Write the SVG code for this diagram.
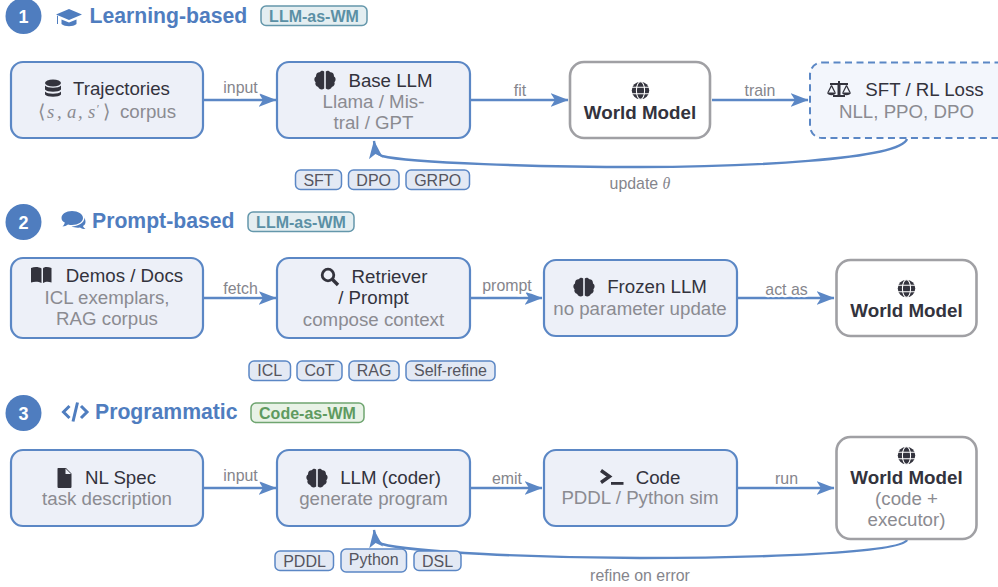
<svg xmlns="http://www.w3.org/2000/svg" width="998" height="587" viewBox="0 0 998 587">
<style>
text{font-family:"Liberation Sans",Arial,sans-serif;text-anchor:middle}
.box{fill:#edf0f8;stroke:#5b87c5;stroke-width:2.2}
.wm{fill:#fff;stroke:#a0a0a4;stroke-width:2.6}
.loss{fill:#f3f6fc;stroke:#5b87c5;stroke-width:2;stroke-dasharray:7 4.5}
.t{font-size:18.7px;fill:#33333d}
.s{font-size:18.7px;fill:#8b8b91}
.b{font-size:18.8px;font-weight:bold;fill:#33333d}
.e{font-size:15.9px;fill:#85858c;paint-order:stroke;stroke:#fff;stroke-width:4.5px}
.tag{fill:#e3e9f4;stroke:#5b87c5;stroke-width:1.5}
.tt{font-size:16px;fill:#55555f}
.h{font-size:21.2px;font-weight:bold;fill:#4f7dbf;text-anchor:start}
.num{font-size:18px;font-weight:bold;fill:#fff}
.c{fill:#4f7dbf}
.l{fill:none;stroke:#5b87c5;stroke-width:2.4}
.bb{fill:#e4eef1;stroke:#6497ab;stroke-width:1.5}
.bt{font-size:16px;font-weight:bold;fill:#5b90a5}
.gb{fill:#e8f2e6;stroke:#6fa570;stroke-width:1.5}
.gt{font-size:16px;font-weight:bold;fill:#5f9a60}
.k{fill:#33333d}
.i{fill:#4f7dbf}
.m{font-family:"Liberation Serif",serif;font-style:italic;text-anchor:start}
.g{font-family:"DejaVu Sans",sans-serif;font-weight:200;text-anchor:start}
.p{font-size:12px;fill:#8b8b91}
</style>
<defs>
<marker id="arr" markerUnits="userSpaceOnUse" markerWidth="19" markerHeight="16" refX="17.5" refY="7" orient="auto" viewBox="0 0 19 14"><path d="M0 0L18 7L0 14L4.5 7Z" fill="#5b87c5"/></marker>
<symbol id="globe" viewBox="0 0 20 20" overflow="visible"><circle cx="10" cy="10" r="9.2" fill="#33333d"/><g fill="none" stroke="#fff" stroke-width="1.1"><ellipse cx="10" cy="10" rx="4.3" ry="9.2"/><path d="M1 6.6H19M1 13.4H19"/></g></symbol>
<symbol id="brain" viewBox="0 0 22 20" overflow="visible"><path d="M10.200 1.500V18.600C8 20.200 5 19.500 4.200 17C1.800 16.400 .8 14 1.600 12.200C-.2 10.400 .1 7.400 2 6.400C1.800 3.800 3.600 2.200 5.600 2.300C6.800 .4 9 .2 10.200 1.500ZM11.800 1.500V18.600C14 20.200 17 19.500 17.800 17C20.200 16.400 21.200 14 20.400 12.200C22.200 10.400 21.900 7.400 20 6.400C20.200 3.800 18.400 2.200 16.400 2.300C15.200 .4 13 .2 11.800 1.500Z" fill="#33333d"/></symbol>
</defs>

<g id="connectors">
<path class="l" marker-end="url(#arr)" d="M204 100H276"/>
<path class="l" marker-end="url(#arr)" d="M471 100H568"/>
<path class="l" marker-end="url(#arr)" d="M712 100H808"/>
<path class="l" marker-end="url(#arr)" d="M907 139C900 160 740 167 640 167C540 167 410 163 382 156C377 154 375 150 374 141"/>
<path class="l" marker-end="url(#arr)" d="M204 298H276"/>
<path class="l" marker-end="url(#arr)" d="M471 298H542"/>
<path class="l" marker-end="url(#arr)" d="M738 298H834"/>
<path class="l" marker-end="url(#arr)" d="M204 488H276"/>
<path class="l" marker-end="url(#arr)" d="M471 488H542"/>
<path class="l" marker-end="url(#arr)" d="M738 488H834"/>
<path class="l" marker-end="url(#arr)" d="M907 540C900 553 760 558 640 558C540 558 410 552 382 544C377 542 375 538 374 530"/>
</g>

<g id="section1">
<circle cx="23.500" cy="16" r="18" class="c"/><text class="num" x="23.500" y="22.500">1</text>
<path class="i" d="M56 14.500L69 9L82 14.500L69 20ZM61.500 19.500L69 22.500L76.500 19.500V24C73 27 65 27 61.500 24ZM58 16V24H57V15.500Z"/>
<text class="h" x="89.500" y="23">Learning-based</text>
<rect class="bb" x="261" y="6" width="106" height="19.500" rx="5"/><text class="bt" x="314" y="21.500">LLM-as-WM</text>
</g>
<g id="trajectories">
<rect class="box" x="11" y="62" width="192" height="76" rx="12"/>
<g class="k"><ellipse cx="53" cy="83" rx="8" ry="3.500"/><path d="M45 85.500C47 88.500 59 88.500 61 85.500V89.500C59 92.500 47 92.500 45 89.500ZM45 91.500C47 94.500 59 94.500 61 91.500V94.500C59 97.500 47 97.500 45 94.500Z"/></g>
<text class="t" x="121.500" y="95">Trajectories</text>
<text class="s g" x="38" y="118">⟨</text>
<text class="s m" x="47" y="118">s</text><text class="s m" x="57" y="118">,</text>
<text class="s m" x="67" y="118">a</text><text class="s m" x="78" y="118">,</text>
<text class="s m" x="88" y="118">s</text><text class="m p" x="96" y="113">′</text>
<text class="s g" x="103" y="118">⟩</text>
<text class="s" x="148" y="118">corpus</text>
</g>
<g id="base-llm">
<rect class="box" x="277" y="62" width="193" height="76" rx="12"/>
<use href="#brain" x="314" y="70" width="22" height="20"/>
<text class="t" x="390.500" y="87">Base LLM</text>
<text class="s" x="373.500" y="108">Llama / Mis-</text>
<text class="s" x="373.500" y="129">tral / GPT</text>
</g>
<g id="wm1">
<rect class="wm" x="570" y="62" width="140" height="76" rx="14"/>
<use href="#globe" x="631" y="81" width="19" height="19"/>
<text class="b" x="640" y="119">World Model</text>
</g>
<g id="loss">
<rect class="loss" x="810" y="62.500" width="200" height="75.500" rx="12"/>
<path class="k" d="M838 81H840V83H848V85H840.500V95H845V97H833V95H837.500V85H830V83H838Z"/>
<path class="k" d="M827 92.500H836C835.500 96 827.500 96 827 92.500ZM842 92.500H851C850.500 96 842.500 96 842 92.500Z"/>
<path d="M831.500 85.500L828 92.500M831.500 85.500L835 92.500M846.500 85.500L843 92.500M846.500 85.500L850 92.500" stroke="#33333d" stroke-width="1.300" fill="none"/>
<text class="t" x="924.500" y="96">SFT / RL Loss</text>
<text class="s" x="906.500" y="118">NLL, PPO, DPO</text>
</g>
<g id="tags1">
<rect class="tag" x="295.500" y="170" width="46" height="19.500" rx="5"/><text class="tt" x="318.500" y="185.500">SFT</text>
<rect class="tag" x="348.500" y="170" width="50.500" height="19.500" rx="5"/><text class="tt" x="373.700" y="185.500">DPO</text>
<rect class="tag" x="406" y="170" width="63.500" height="19.500" rx="5"/><text class="tt" x="437.700" y="185.500">GRPO</text>
</g>
<g id="labels1">
<text class="e" x="240.500" y="93">input</text>
<text class="e" x="520" y="96">fit</text>
<text class="e" x="760" y="96">train</text>
<text class="e" x="640" y="189">update <tspan style="font-family:'Liberation Serif',serif;font-style:italic">θ</tspan></text>
</g>

<g id="section2">
<circle cx="23.500" cy="222" r="18" class="c"/><text class="num" x="23.500" y="228.500">2</text>
<path class="i" d="M72 211C78 211 83 214 83 218C83 222 78 225 72 225C70.500 225 69.500 225 68 224.500C66.500 225.800 64.500 226.500 62.500 226.500C64 225 64.500 224 64.800 222.500C62.800 221.500 61.500 220 61.500 218C61.500 214 66 211 72 211ZM84.500 217.500C85 219.500 85.500 220 85.500 222C85.500 224 84.500 225 83 226C83.300 227 84 228 85.500 229C83.500 229 81.500 228.500 80 227.500C77 228 74 227.500 71.500 226.500C78 226.500 84.500 223 84.500 217.500Z"/>
<text class="h" x="92" y="228">Prompt-based</text>
<rect class="bb" x="248" y="212" width="106" height="19.500" rx="5"/><text class="bt" x="301" y="227.500">LLM-as-WM</text>
</g>
<g id="demos">
<rect class="box" x="11" y="258" width="192" height="80" rx="12"/>
<path class="k" d="M31 268C35 266.500 39 267 41.500 268.500V283C38.500 281.500 34.500 281.500 31 282.500ZM51.500 268C47.500 266.500 43.500 267 43 268.500V283C46 281.500 48 281.500 51.500 282.500Z"/>
<text class="t" x="124.500" y="282">Demos / Docs</text>
<text class="s" x="107" y="304">ICL exemplars,</text>
<text class="s" x="107" y="325">RAG corpus</text>
</g>
<g id="retriever">
<rect class="box" x="277" y="258" width="193" height="80" rx="12"/>
<circle cx="328" cy="275" r="5.800" fill="none" stroke="#33333d" stroke-width="2.800"/><path d="M332.500 279.500L338 285" stroke="#33333d" stroke-width="3.400" fill="none"/>
<text class="t" x="389.500" y="283">Retriever</text>
<text class="t" x="373.500" y="304">/ Prompt</text>
<text class="s" x="373.500" y="326">compose context</text>
</g>
<g id="frozen">
<rect class="box" x="544" y="260" width="193" height="76" rx="12"/>
<use href="#brain" x="573" y="277" width="22" height="20"/>
<text class="t" x="657" y="293">Frozen LLM</text>
<text class="s" x="640" y="315">no parameter update</text>
</g>
<g id="wm2">
<rect class="wm" x="836.500" y="260" width="140" height="76" rx="14"/>
<use href="#globe" x="897" y="279" width="19" height="19"/>
<text class="b" x="906.500" y="317">World Model</text>
</g>
<g id="tags2">
<rect class="tag" x="249" y="361" width="41.500" height="19.500" rx="5"/><text class="tt" x="269.700" y="376">ICL</text>
<rect class="tag" x="297" y="361" width="45" height="19.500" rx="5"/><text class="tt" x="319.500" y="376">CoT</text>
<rect class="tag" x="349" y="361" width="50" height="19.500" rx="5"/><text class="tt" x="374" y="376">RAG</text>
<rect class="tag" x="406" y="361" width="89" height="19.500" rx="5"/><text class="tt" x="450.500" y="376">Self-refine</text>
</g>
<g id="labels2">
<text class="e" x="240.500" y="294">fetch</text>
<text class="e" x="507" y="291">prompt</text>
<text class="e" x="786.500" y="294.500">act as</text>
</g>

<g id="section3">
<circle cx="23.500" cy="413" r="18" class="c"/><text class="num" x="23.500" y="419.500">3</text>
<path d="M69.500 406L63.500 412L69.500 418M81 406L87 412L81 418M77.500 402.500L73 421.500" fill="none" stroke="#4f7dbf" stroke-width="3"/>
<text class="h" x="95" y="419">Programmatic</text>
<rect class="gb" x="251" y="403" width="113" height="19.500" rx="5"/><text class="gt" x="307.500" y="418.500">Code-as-WM</text>
</g>
<g id="spec">
<rect class="box" x="11" y="450" width="192" height="76" rx="12"/>
<path class="k" d="M58 468H66L71.500 473.500V486.500C71.500 487.500 71 488 70 488H59C58 488 57.500 487.500 57.500 486.500V469C57.500 468.500 57.800 468 58 468ZM65.500 468.500V474H71Z" fill-rule="evenodd"/>
<text class="t" x="120.500" y="484">NL Spec</text>
<text class="s" x="107" y="505">task description</text>
</g>
<g id="coder">
<rect class="box" x="277" y="450" width="193" height="76" rx="12"/>
<use href="#brain" x="306" y="468" width="22" height="20"/>
<text class="t" x="390.500" y="484">LLM (coder)</text>
<text class="s" x="373.500" y="505">generate program</text>
</g>
<g id="code">
<rect class="box" x="544" y="450" width="193" height="76" rx="12"/>
<path d="M601 470.500L609.500 476.500L601 482.500" fill="none" stroke="#33333d" stroke-width="3.400"/><rect class="k" x="611" y="482" width="12.500" height="2.800"/>
<text class="t" x="658" y="484">Code</text>
<text class="s" x="640" y="504">PDDL / Python sim</text>
</g>
<g id="wm3">
<rect class="wm" x="836.500" y="437" width="140" height="102" rx="14"/>
<use href="#globe" x="897" y="446" width="19" height="19"/>
<text class="b" x="906.500" y="484">World Model</text>
<text class="s" x="906.500" y="505">(code +</text>
<text class="s" x="906.500" y="526">executor)</text>
</g>
<g id="tags3">
<rect class="tag" x="275" y="551" width="58.500" height="19.500" rx="5"/><text class="tt" x="304.500" y="566.500">PDDL</text>
<rect class="tag" x="341" y="549" width="65.500" height="23" rx="5"/><text class="tt" x="373.700" y="565">Python</text>
<rect class="tag" x="414" y="551" width="47" height="19.500" rx="5"/><text class="tt" x="437.500" y="566.500">DSL</text>
</g>
<g id="labels3">
<text class="e" x="240.500" y="481">input</text>
<text class="e" x="507" y="484">emit</text>
<text class="e" x="786.500" y="484">run</text>
<text class="e" x="640" y="581">refine on error</text>
</g>
</svg>
